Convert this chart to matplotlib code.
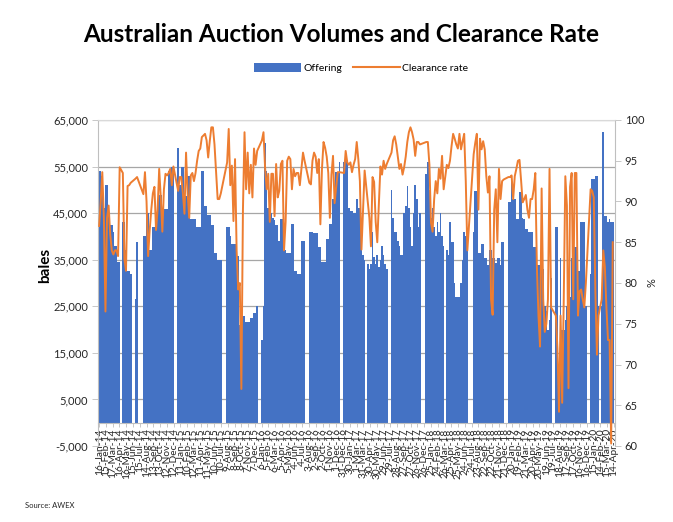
import matplotlib
matplotlib.use("Agg")
import matplotlib.pyplot as plt
from matplotlib.ticker import FuncFormatter, FixedLocator, FixedFormatter
from matplotlib.patches import Patch
from matplotlib.lines import Line2D
import matplotlib.dates as mdates
import numpy as np
import pandas as pd

plt.rcParams['font.family'] = ['Lato', 'DejaVu Sans']

# ---------------- data (weekly sales, None = no sale / recess) ----------------
start_date = "2014-01-16"

offering = [
    54000, 54000, 53000, 46000, 51000, 51000, 46000, 42500, 42500, 41000,
    38000, 38000, 34500, 34500, None, 43000, 43000, 37000, 32500, 32500,
    32000, None, None, 26500, 38700, None, None, None, 40000, 40000,
    45000, 45000, 37000, 37000, 42000, 42000, 44700, 44700, 49000, 49000,
    45800, 45800, 45800, 45800, 54000, 54000, 55000, 55000, None, None,
    59000, 51000, 55000, 55000, 48600, 48600, 53000, 53000, 43700, 43700,
    43700, 43700, 42000, 42000, 42000, 54000, 54000, 46500, 46500, 44700,
    44700, 42500, 42500, 36500, 36500, 35000, 35000, 35000, None, None,
    None, 42000, 42000, 40000, 38300, 38300, 38300, 35700, 35700, 21000,
    21000, 23000, 23000, 21700, 21700, 21700, 22500, 22500, 23500, 23500,
    25000, None, None, 17800, 25000, 60000, 54000, 46000, 46000, 45000,
    44000, 43600, 42500, 42500, 39000, 43700, 43700, 37000, 37000, 36500,
    36500, 36500, 42600, 42600, 32500, 32500, 32000, 32000, 39000, 39000,
    39000, None, None, 41000, 41000, 41000, 40800, 40800, 40800, 37800,
    37800, 34600, 34600, 34600, 39500, 39500, 42600, 42600, 48000, 48000,
    53800, 53800, 56000, None, None, 56000, 56500, 56500, 46000, 45500,
    45500, 45000, 45000, 48000, 46000, 46000, 38000, 36000, 35000, None,
    34000, 33000, 34000, 41000, 35500, 34000, 36000, 33500, 35000, 38000,
    36000, 34000, 33000, None, None, 50000, 44000, 41000, 41000, 39000,
    38000, 36000, 36000, 45000, 46500, 50800, 46000, 42000, 38000, 45000,
    51000, 48000, 42000, 45000, None, None, None, 53300, 56000, 50000,
    44000, 46000, 42000, 40000, 43000, 41000, 45000, 40000, 38000, None,
    37000, 36000, 43000, 38700, 38700, 30000, 27000, 27000, 27000, 30000,
    35000, 41000, 40000, 38000, None, None, None, 41000, 49700, 49700,
    36500, 36500, 38300, 38300, 35300, 35300, 33800, 37000, 37000, 35300,
    35300, 34300, 35300, 35300, 33800, 38700, 38700, None, None, 47300,
    47300, 52300, 48000, 48000, 43700, 43700, 49500, 49500, 44000, 43700,
    41700, 41700, 41000, 41000, 41000, 37800, 37800, 33800, 33800, 33800,
    33000, 33000, 25000, 24000, 20000, 22000, 31000, None, None, 42000,
    42000, 2500, 35300, 20000, 20000, 22000, 25000, 17000, 27000, 35300,
    35300, 37800, 37800, 32500, 32500, 43000, 43000, 43000, 25000, None,
    None, 32000, 52300, 52300, 53000, 53000, 25000, None, 25000, 62500,
    44300, 44300, 43000, 43700, 43000, 43000,
]

clearance_rate = [
    87, 90, 93.6, 88, 76.5, 88, 89.5, 86, 84, 83.5,
    84, 84, 83.3, 94.2, None, 93.5, 82.9, 81.5, 91.9, 92,
    92.3, None, None, 92.8, 93, None, None, None, 90.9, 93.6,
    90, 83.3, 86.5, 89, 91, 91.8, 86.5, 89, 94, 90.5,
    86.3, 91.5, 93.4, 93.2, 93.5, 94, 92, 94.3, None, None,
    91.3, 93, 93, 91, 88.5, 96, 91, 88, 93.2, 93.5,
    92.5, 93.5, 95, 96.2, 96.5, 97.9, 98.1, 98.3, 97.5, 95.4,
    97.4, 99.1, 99.1, 97, 93.6, 90.3, 90.3, 91, None, None,
    None, 94.8, 98.9, 92, 94.4, 87.6, 95.2, 84, 79.2, 80,
    67, 89, 98.5, 91.5, 96, 91, 94.5, 90.5, 96.5, 94.5,
    96.2, None, None, 97.5, 98.5, 94.2, 91.5, 93.4, 87.5, 93.4,
    93.4, 88.2, 94.6, 90.5, 91.3, 94.6, 95, 84, 87.5, 95,
    95.5, 95.2, 91.5, 94, 93.1, 93.5, 93.5, 92, 94, 96,
    95, None, None, 92.3, 92.1, 95, 96, 95.5, 93.5, 95.2,
    87.2, 94, 97.3, 96.6, 95.5, 93.5, 88, 93.3, 95.6, 89.8,
    91.8, 93.6, 93.6, None, None, 93.5, 96.2, 94.8, 94.5, 94.8,
    93.6, 94.5, 95.2, 97.3, 95.2, 92.5, 84.1, 89, 93.8, None,
    90, 88, 84.5, 93, 92.4, 87.5, 85, 89.8, 94.3, 93.3,
    95, 94, 94.6, None, None, 96, 97.5, 98, 97, 95.5,
    94, 94.6, 93.3, 94.2, 95.5, 97.3, 98.5, 99.1, 98.5, 97.6,
    95.6, 97.3, 97.3, 97, None, None, None, 97.3, 97.3, 94.5,
    87.4, 86.3, 90.3, 92.5, 91, 94, 92.8, 95.6, 91.5, None,
    94.5, 94.1, 95, 96.8, 98.3, 97.7, 97, 96.5, 98.3, 96.4,
    97.4, 98.3, 92.5, 84, None, None, None, 95.8, 97.2, 98.3,
    89, 97.7, 96.4, 97.4, 96.4, 93.1, 91.1, 93.1, 78, 76.1,
    89, 91.5, 85, 94, 90.3, 92.5, 92.7, None, None, 93,
    93, 93.2, 90.3, 93.1, 94, 95, 95.1, 92.6, 89.9, 90.3,
    90.8, 89, 88, 90.3, 90.3, 91.5, 93.5, 82, 76, 72.2,
    91.6, 78, 74, 75, 78, 94, 77, None, None, 76,
    72, 64.2, 76, 65.3, 78, 93.1, 89.5, 67.1, 91.8, 93.5,
    78, 93.5, 93.5, 76, 79, 79.2, 78, 77, 80, None,
    None, 91.5, 91.3, 90.5, 79, 71.2, 76, None, 78, 84,
    82, 77, 73, 73, 60.3, 85,
]

n_tick_labels = 77          # date labels every 30 days
tick_step_days = 30

assert len(offering) == len(clearance_rate)

# ---------------- figure ----------------
W, H = 673, 522
fig = plt.figure(figsize=(W / 100, H / 100), dpi=100)
fig.patch.set_facecolor('white')

L, R, T, B = 98, 615, 120, 446
ax = fig.add_axes([L / W, 1 - B / H, (R - L) / W, (B - T) / H])

dates = pd.date_range(start_date, periods=len(offering), freq='7D')
off = np.array([np.nan if v is None else v for v in offering], dtype=float)
clr = np.array([np.nan if v is None else v for v in clearance_rate], dtype=float)

bar_color = '#4472C4'
line_color = '#ED7D31'

ax.bar(dates, off, width=7, color=bar_color, linewidth=0, zorder=2)

ax2 = ax.twinx()
mask = ~np.isnan(clr)
ax2.plot(dates[mask], clr[mask], color=line_color, linewidth=1.4, zorder=3)
ax2.set_ylim(60, 100)
ax2.set_yticks(np.arange(60, 101, 5))
ax2.tick_params(axis='y', length=4, width=0.6, color='#bfbfbf', labelsize=8,
                labelcolor='#262626', pad=3)
for s in ax2.spines.values():
    s.set_visible(False)

ax.set_ylim(-5000, 65000)
ax.set_yticks(np.arange(-5000, 65001, 10000))
ax.yaxis.set_major_formatter(FuncFormatter(lambda v, p: f"{int(v):,}"))
ax.grid(axis='y', color='#a6a6a6', linewidth=0.9, zorder=0)
ax.set_axisbelow(True)

tick_dates = pd.date_range(start_date, periods=n_tick_labels, freq=f'{tick_step_days}D')
tick_labels = [f"{d.day}-{d.strftime('%b-%y')}" for d in tick_dates]
ax.xaxis.set_major_locator(FixedLocator(mdates.date2num(tick_dates)))
ax.xaxis.set_major_formatter(FixedFormatter(tick_labels))
ax.set_xlim(pd.Timestamp(start_date) - pd.Timedelta(days=5),
            pd.Timestamp(start_date) + pd.Timedelta(days=2285))
ax.tick_params(axis='x', length=3, width=0.6, color='#bfbfbf', pad=1,
               labelrotation=90, labelsize=7.3, labelcolor='#262626')

ax.spines['bottom'].set_position(('data', 0))
ax.spines['bottom'].set_color('#bfbfbf')
ax.spines['top'].set_color('#d9d9d9')
ax.spines['left'].set_color('#bfbfbf')
ax.spines['right'].set_color('#bfbfbf')
ax.tick_params(axis='y', length=4, width=0.6, color='#bfbfbf', labelsize=8,
               labelcolor='#262626', pad=3)

# ---------------- text ----------------
fig.text(341 / W, 1 - 35 / H, 'Australian Auction Volumes and Clearance Rate',
         ha='center', va='center', fontsize=17.5, fontweight='bold', color='black')
fig.text(45 / W, 1 - 265 / H, 'bales', rotation=90, ha='center', va='center',
         fontsize=11, fontweight='bold', color='black')
fig.text(652 / W, 1 - 283 / H, '%', rotation=90, ha='center', va='center',
         fontsize=8, color='#262626')
fig.text(25 / W, 1 - 505 / H, 'Source: AWEX', ha='left', va='center',
         fontsize=5.5, color='#262626')

handles = [Patch(facecolor=bar_color, edgecolor='none'),
           Line2D([], [], color=line_color, linewidth=1.5)]
fig.legend(handles, ['Offering', 'Clearance rate'], loc='center',
           bbox_to_anchor=(361 / W, 1 - 68 / H), ncol=2, frameon=False,
           fontsize=7.5, handlelength=4.5, handleheight=0.9,
           columnspacing=1.0, handletextpad=0.2)

fig.savefig('out.png', dpi=100)
